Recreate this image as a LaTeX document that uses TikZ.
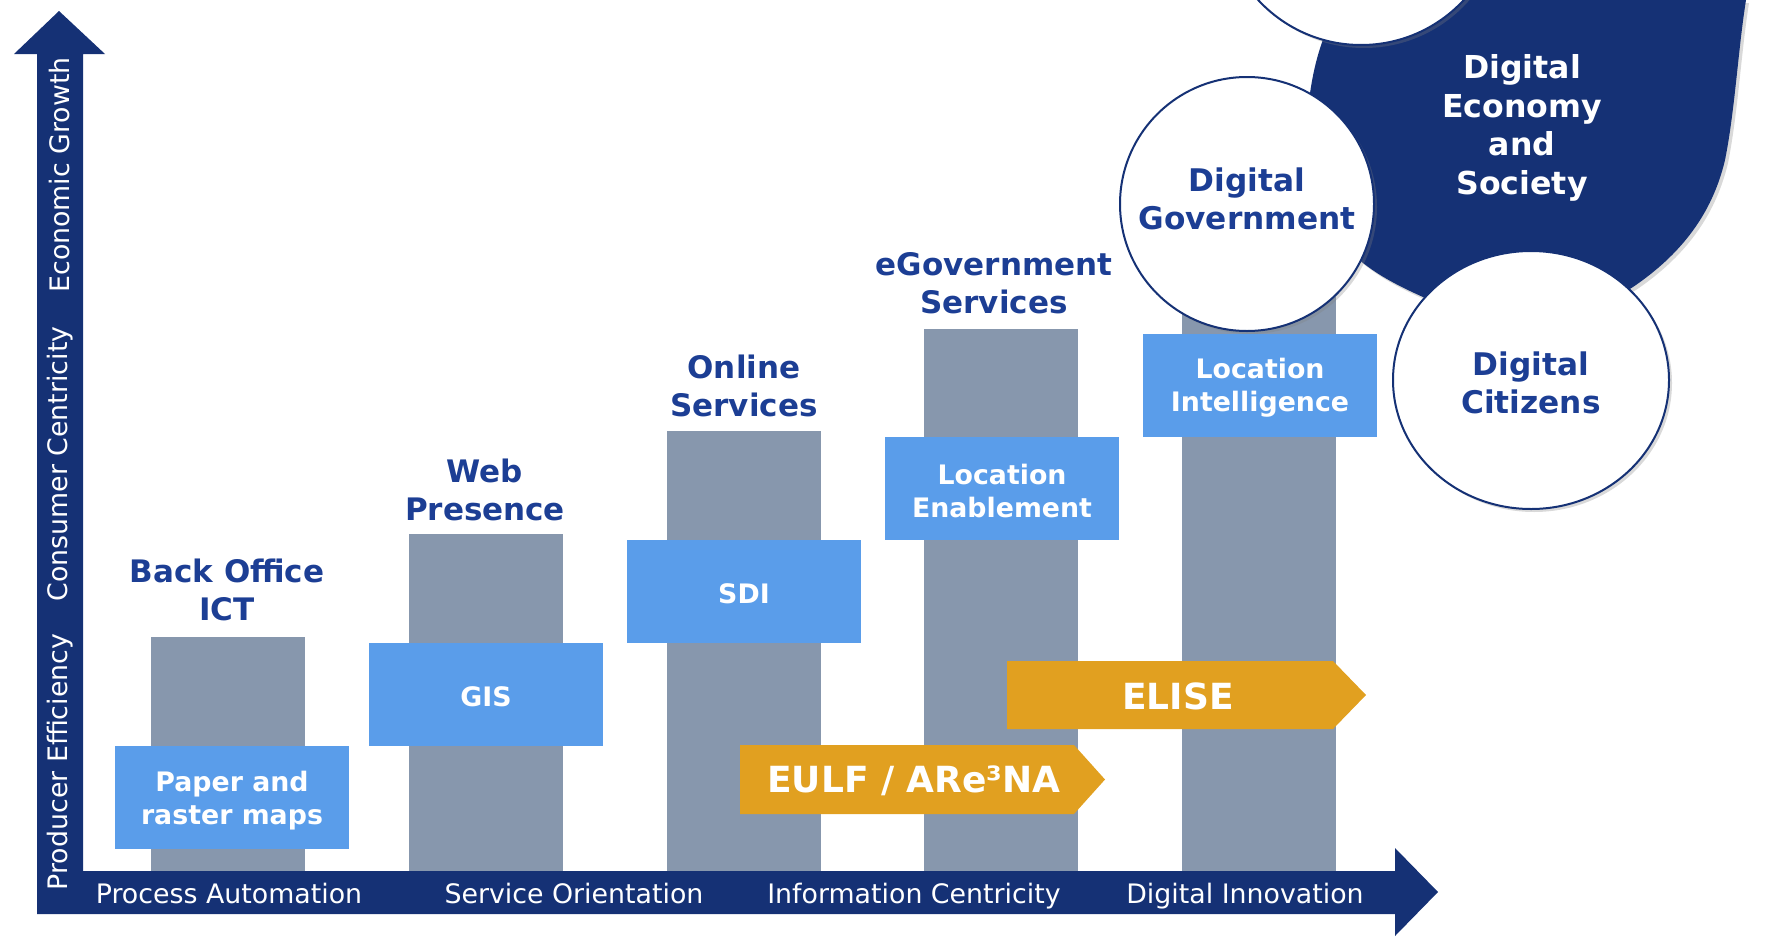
\documentclass[tikz,border=0pt]{standalone}
\usepackage{fontspec}
\setmainfont{DejaVu Sans}
\usetikzlibrary{shapes.geometric,shadows}
\definecolor{navy}{RGB}{21,49,117}
\definecolor{headblue}{RGB}{28,62,148}
\definecolor{bargray}{RGB}{135,151,173}
\definecolor{boxblue}{RGB}{90,157,234}
\definecolor{gold}{RGB}{225,160,32}

\begin{document}
\begin{tikzpicture}[x=0.5pt,y=-0.5pt,
    stage/.style={text=headblue,align=center,font=\bfseries\fontsize{15.5}{19.25}\selectfont},
    tool/.style={fill=boxblue,minimum width=117pt,minimum height=51.5pt,inner sep=0pt,text=white,align=center,font=\bfseries\fontsize{13.4}{16.5}\selectfont},
    axislab/.style={text=white,inner sep=0pt,font=\fontsize{13.4}{15}\selectfont},
    initiative/.style={text=white,font=\bfseries\fontsize{18}{20}\selectfont},
    bubble/.style={circle,draw=navy,line width=1pt,fill=white,drop shadow={opacity=0.3,shadow xshift=1.5pt,shadow yshift=-1.5pt}},
    bubbletext/.style={text=headblue,align=center,font=\bfseries\fontsize{15.6}{18.8}\selectfont}]
  \useasboundingbox (0,0) rectangle (1778,937);
  \clip (0,0) rectangle (1778,937);

  \foreach \i/\h in {0/637,1/534,2/431,3/329,4/250}
    \fill[bargray] ({151+257.75*\i},\h) rectangle ++(154,{871-\h});

  \node[stage] (backoffice) at (227,590) {Back Office\\ICT};
  \node[stage] (web) at (485,490) {Web\\Presence};
  \node[stage] (online) at (744,386) {Online\\Services};
  \node[stage] (egov) at (994,283) {eGovernment\\Services};

  \node[tool] (paper) at (232,797) {};
  \node[tool] (gis) at (486,694) {};
  \node[tool] (sdi) at (744,591) {};
  \node[tool] (enable) at (1002,488) {};
  \node[tool] (intel) at (1260,385) {};
  \node[tool,fill=none] (papertxt) at (232,801) {Paper and\\raster maps};
  \node[tool,fill=none] (gistxt) at (486,697) {GIS};
  \node[tool,fill=none] (sditxt) at (744,594) {SDI};
  \node[tool,fill=none] (enabletxt) at (1002,491) {Location\\Enablement};
  \node[tool,fill=none] (inteltxt) at (1260,388) {Location\\Intelligence};

  \fill[gold] (740,745) -- (1074,745) -- (1105,779.5) -- (1074,814) -- (740,814) -- cycle;
  \node[initiative] (eulf) at (914,781) {EULF / ARe³NA};
  \fill[gold] (1007,661) -- (1333,661) -- (1366,695) -- (1333,729) -- (1007,729) -- cycle;
  \node[initiative] (elise) at (1178,696) {ELISE};

  \fill[navy] (37,914) -- (37,54) -- (14,54) -- (59,11) -- (105,54) -- (83,54) -- (83,871) -- (1395,871) -- (1395,848) -- (1438,892) -- (1395,936) -- (1395,914) -- cycle;
  \node[axislab,anchor=base] (procauto) at (229,903) {Process Automation};
  \node[axislab,anchor=base] (servor) at (574,903) {Service Orientation};
  \node[axislab,anchor=base] (infocent) at (914,903) {Information Centricity};
  \node[axislab,anchor=base] (diginno) at (1245,903) {Digital Innovation};
  \node[axislab,rotate=90] (prodeff) at (60,762) {Producer Efficiency};
  \node[axislab,rotate=90] (conscent) at (60,464) {Consumer Centricity};
  \node[axislab,rotate=90] (econgrow) at (60,175) {Economic Growth};

  \path[fill=navy,drop shadow={opacity=0.3,shadow xshift=1.5pt,shadow yshift=-1.5pt}]
    (1340,0) -- (1746,0) .. controls (1738,50) and (1735,110) .. (1725,160)
    .. controls (1712,215) and (1680,255) .. (1633,287)
    .. controls (1580,320) and (1470,320) .. (1423,297)
    .. controls (1385,280) and (1360,265) .. (1340,240)
    .. controls (1310,200) and (1300,140) .. (1308,110)
    .. controls (1312,70) and (1320,40) .. (1340,0) -- cycle;
  \node[text=white,align=center,font=\bfseries\fontsize{15.8}{19.2}\selectfont] (economy) at (1522,128) {Digital\\Economy\\and\\Society};

  \node[bubble,minimum size=140pt] (topbubble) at (1361,-95) {};
  \node[bubble,minimum size=127pt] (govt) at (1247,204) {};
  \node[bubbletext] (govttxt) at (1247,199) {Digital\\Government};
  \node[bubble,ellipse,minimum width=138pt,minimum height=129pt] (citizens) at (1531,380) {};
  \node[bubbletext] (citizenstxt) at (1531,383) {Digital\\Citizens};
\end{tikzpicture}
\end{document}
